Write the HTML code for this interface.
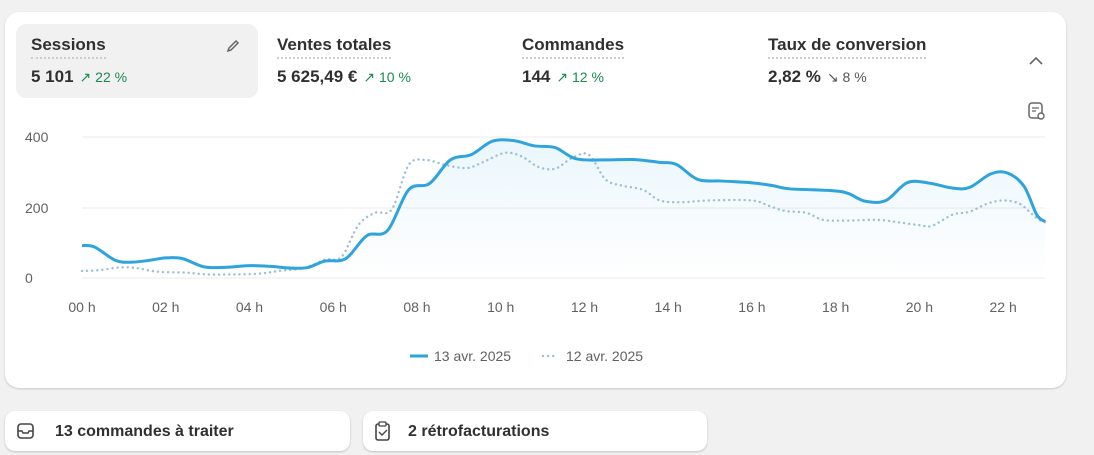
<!DOCTYPE html>
<html><head><meta charset="utf-8">
<style>
*{box-sizing:border-box;margin:0;padding:0}
body{width:1094px;height:455px;background:#f1f1f1;font-family:"Liberation Sans",sans-serif;position:relative;overflow:hidden;color:#303030}
.card{position:absolute;left:5px;top:12px;width:1061px;height:376px;background:#fff;border-radius:14px;box-shadow:0 1px 2px rgba(0,0,0,.18)}
.sel{position:absolute;left:16px;top:24px;width:242px;height:74px;background:#f1f1f1;border-radius:10px}
.m{position:absolute;top:35px}
.t{font-size:17px;font-weight:bold;color:#303030;border-bottom:2px dotted #ccc;display:inline-block;padding-bottom:2px}
.v{margin-top:8px;font-size:17px;font-weight:bold;color:#303030;white-space:nowrap}
.v span{font-size:14px;font-weight:normal;color:#1a8a4e;margin-left:6px}
.v span.g{color:#555}
.btn{position:absolute;top:411px;height:40px;background:#fff;border-radius:10px;box-shadow:0 1px 2px rgba(0,0,0,.2);font-size:16px;font-weight:bold;color:#303030;padding:12px 0 0 45px}
.ax{font-size:14px;fill:#616161;font-family:"Liberation Sans",sans-serif}
</style></head><body>
<div class="card"></div>
<div class="sel"></div>
<div class="m" style="left:31px"><div class="t">Sessions</div><div class="v">5 101<span>↗ 22 %</span></div></div>
<div class="m" style="left:277px"><div class="t">Ventes totales</div><div class="v">5 625,49 €<span>↗ 10 %</span></div></div>
<div class="m" style="left:522px"><div class="t">Commandes</div><div class="v">144<span>↗ 12 %</span></div></div>
<div class="m" style="left:768px"><div class="t">Taux de conversion</div><div class="v">2,82 %<span class="g">↘ 8 %</span></div></div>
<div class="btn" style="left:5px;width:345px;padding-left:50px">13 commandes à traiter</div>
<div class="btn" style="left:363px;width:344px">2 rétrofacturations</div>
<svg width="1094" height="455" style="position:absolute;left:0;top:0">
<path d="M229 48 l7 -7 l2 2 l-7 7 l-3 1z" fill="none" stroke="#666" stroke-width="1.5"/>
<path d="M1030 64 l6 -6 l6 6" fill="none" stroke="#666" stroke-width="1.6"/>
<rect x="1029" y="103" width="13" height="15" rx="3" fill="none" stroke="#666" stroke-width="1.5"/>
<path d="M1032 108 h7 M1032 111 h4" stroke="#666" stroke-width="1.3"/>
<circle cx="1041" cy="116" r="3" fill="#fff" stroke="#666" stroke-width="1.4"/>
<g stroke="#ebebeb"><line x1="82" y1="137" x2="1045" y2="137"/><line x1="82" y1="208" x2="1045" y2="208"/><line x1="82" y1="278" x2="1045" y2="278"/></g>
<g class="ax"><text x="25" y="142">400</text><text x="25" y="213">200</text><text x="25" y="283">0</text></g>
<g class="ax" id="xl" text-anchor="middle"></g>
<defs><linearGradient id="gr" x1="0" y1="0" x2="0" y2="1"><stop offset="0" stop-color="#2fa9e0" stop-opacity=".1"/><stop offset="1" stop-color="#2fa9e0" stop-opacity="0"/></linearGradient></defs>
<path id="area" fill="url(#gr)"/>
<path id="dot" fill="none" stroke="#9dc0d3" stroke-width="2.4" stroke-dasharray="0.1 5" stroke-linecap="round"/>
<path id="sol" fill="none" stroke="#2ea3dc" stroke-width="3"/>
<line x1="410" y1="356" x2="428" y2="356" stroke="#2ea3dc" stroke-width="3"/>
<text x="434" y="361" class="ax">13 avr. 2025</text>
<line x1="543" y1="356" x2="558" y2="356" stroke="#9dc0d3" stroke-width="2.4" stroke-dasharray="0.1 5" stroke-linecap="round"/>
<text x="566" y="361" class="ax">12 avr. 2025</text>
<rect x="18" y="424" width="15" height="14" rx="3" fill="none" stroke="#444" stroke-width="1.6"/>
<path d="M18 431 h4 l1 2 h5 l1 -2 h4" fill="none" stroke="#444" stroke-width="1.4"/>
<rect x="376" y="424" width="13" height="16" rx="2" fill="none" stroke="#444" stroke-width="1.6"/>
<rect x="379" y="422" width="7" height="4" rx="1" fill="#fff" stroke="#444" stroke-width="1.3"/>
<path d="M379 432 l3 3 l5 -5" fill="none" stroke="#444" stroke-width="1.4"/>
</svg>
<script>
var X=h=>82+h*41.87, Y=v=>278-v*0.3525;
var S=[[0,92],[0.3,88],[0.8,50],[1.2,45],[1.6,50],[2,57],[2.4,55],[2.9,32],[3.4,30],[4,35],[4.5,33],[5,28],[5.4,30],[5.8,48],[6.3,55],[6.8,120],[7.3,135],[7.8,250],[8.3,268],[8.8,335],[9.3,350],[9.8,388],[10.3,390],[10.8,375],[11.3,370],[11.8,338],[12.5,335],[13.2,336],[13.8,328],[14.2,322],[14.7,280],[15.3,275],[16,270],[16.5,262],[16.9,253],[17.9,248],[18.3,240],[18.7,218],[19.2,220],[19.7,270],[20.2,270],[20.8,255],[21.2,257],[21.7,295],[22.1,298],[22.5,260],[22.8,180],[23,160]];
var D=[[0,20],[0.4,22],[0.9,30],[1.3,28],[1.8,18],[2.5,15],[3,10],[3.5,10],[4.2,12],[4.7,20],[5.3,28],[5.8,52],[6.2,60],[6.6,150],[7,185],[7.4,195],[7.8,320],[8.2,335],[8.7,320],[9.2,312],[9.6,330],[10.1,355],[10.5,345],[10.9,315],[11.3,310],[11.7,340],[12.1,350],[12.5,280],[12.9,262],[13.4,250],[13.8,220],[14.3,215],[15,220],[16,220],[16.4,205],[16.8,190],[17.3,185],[17.7,165],[18.3,163],[19,165],[19.5,158],[20,150],[20.3,148],[20.8,180],[21.2,188],[21.6,210],[22,220],[22.4,210],[22.8,170],[23,158]];
function path(P){var p=P.map(a=>[X(a[0]),Y(a[1])]);var d="M"+p[0][0]+" "+p[0][1];
for(var i=0;i<p.length-1;i++){var a=p[i-1]||p[i],b=p[i],c=p[i+1],e=p[i+2]||c;
d+=" C"+(b[0]+(c[0]-a[0])/6)+" "+(b[1]+(c[1]-a[1])/6)+" "+(c[0]-(e[0]-b[0])/6)+" "+(c[1]-(e[1]-b[1])/6)+" "+c[0]+" "+c[1];}return d;}
var s=path(S);
document.getElementById('sol').setAttribute('d',s);
document.getElementById('dot').setAttribute('d',path(D));
document.getElementById('area').setAttribute('d',s+" L"+X(23)+" 278 L82 278Z");
var g=document.getElementById('xl'),h="";
for(var i=0;i<12;i++){var l=(i*2<10?"0":"")+(i*2)+" h";h+='<text x="'+X(i*2)+'" y="312">'+l+'</text>';}
g.innerHTML=h;
</script>
</body></html>
